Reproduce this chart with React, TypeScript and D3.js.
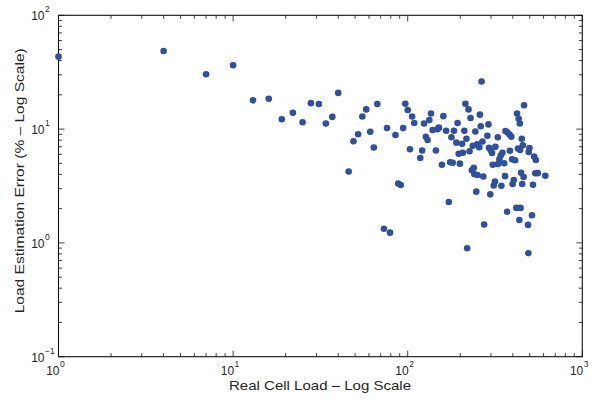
import React from "react";
import * as d3 from "d3";

const realLoad: number[] = [
  1, 4, 7, 10, 13, 16, 19, 22, 25, 27.9, 31, 34, 37, 40, 45.9, 48.9, 52, 55, 57.9, 61,
  64, 67, 73.1, 79.2, 76.1, 85.1, 88.3, 91.2, 94.2, 96.9, 100, 103, 106, 109, 118, 121, 124, 127, 130, 133,
  136, 139, 145, 148, 151, 157, 160, 166, 172, 175, 178, 181, 184, 190, 193, 196, 199, 205, 207, 211,
  214, 217, 219, 223, 226, 229, 233, 236, 239, 241, 244, 247, 250, 251, 257, 259, 262, 265, 268, 271,
  274, 286, 290, 292, 297, 299, 304, 307, 311, 316, 318, 328, 329, 335, 341, 344, 349, 357, 361, 363,
  371, 373, 383, 385, 392, 396, 399, 405, 412, 419, 423, 428, 432, 436, 439, 443, 446, 450, 453, 456,
  461, 464, 489, 491, 493, 498, 515, 522, 530, 542, 538, 556, 614, 440,
];

const estError: number[] = [
  43.3, 48.6, 30.3, 36.4, 17.9, 18.5, 12.2, 13.9, 11.5, 16.9, 16.6, 11.2, 12.8, 20.8, 4.24, 7.81, 9.0, 12.9, 14.9, 9.49,
  6.89, 16.6, 1.33, 1.23, 10.2, 8.87, 3.33, 3.23, 10.2, 16.7, 14.7, 6.65, 12.9, 11.3, 5.57, 6.49, 11.2, 8.57, 8.02, 12.0,
  13.7, 9.82, 6.49, 9.98, 10.3, 4.86, 13.0, 9.68, 2.29, 5.11, 8.47, 5.06, 9.68, 7.6, 11.3, 6.07, 4.97, 7.43, 6.19, 9.68,
  16.7, 8.22, 0.898, 14.9, 6.39, 12.5, 4.35, 7.15, 4.57, 4.01, 9.53, 2.82, 7.35, 3.95, 6.92, 13.4, 10.6, 26.2, 7.78, 3.83,
  1.45, 8.75, 11.0, 6.85, 2.67, 6.53, 6.17, 4.86, 3.19, 3.46, 7.0, 8.47, 4.94, 5.44, 5.86, 3.18, 6.2, 5.01, 3.86, 9.62,
  1.88, 9.33, 8.97, 6.46, 8.57, 5.43, 3.29, 3.57, 5.33, 2.03, 13.7, 6.76, 12.3, 1.59, 11.2, 2.03, 4.14, 8.22, 3.29, 7.2,
  3.79, 16.2, 1.44, 0.812, 6.29, 6.82, 1.75, 3.24, 5.74, 5.35, 4.09, 4.1, 3.89, 6.55,
];

const xTickExps: number[] = [0, 1, 2, 3];
const yTickExps: number[] = [-1, 0, 1, 2];

const xLabel = "Real Cell Load \u2013 Log Scale";
const yLabel = "Load Estimation Error (% \u2013 Log Scale)";

const W = 592;
const H = 400;
const left = 58.5;
const right = 582.3;
const top = 15.3;
const bottom = 356.7;

export default function App() {
  const x = d3.scaleLog().domain([1, 1000]).range([left, right]);
  const y = d3.scaleLog().domain([0.1, 100]).range([bottom, top]);
  const xt = x.ticks();
  const yt = y.ticks();
  const isMajor = (v: number) => Math.abs(Math.log10(v) - Math.round(Math.log10(v))) < 1e-9;
  const font = "'Liberation Sans', Arial, Helvetica, sans-serif";
  const txt = "#262626";
  const major = 6;
  const minor = 3.5;
  const pts = realLoad.map((v, i) => [v, estError[i]] as [number, number]);

  return (
    <svg width={W} height={H} style={{ position: "absolute", left: 0, top: 0, background: "#fff" }} fontFamily={font}>
      <rect x={0} y={0} width={W} height={H} fill="#fff" />
      {/* ticks */}
      <g stroke="#111" strokeWidth={0.8}>
        {xt.map((v, i) => {
          const len = isMajor(v) ? major : minor;
          const px = x(v);
          return (
            <g key={"xt" + i}>
              <line x1={px} x2={px} y1={bottom} y2={bottom - len} />
              <line x1={px} x2={px} y1={top} y2={top + len} />
            </g>
          );
        })}
        {yt.map((v, i) => {
          const len = isMajor(v) ? major : minor;
          const py = y(v);
          return (
            <g key={"yt" + i}>
              <line x1={left} x2={left + len} y1={py} y2={py} />
              <line x1={right} x2={right - len} y1={py} y2={py} />
            </g>
          );
        })}
      </g>
      {/* frame */}
      <rect x={left} y={top} width={right - left} height={bottom - top} fill="none" stroke="#111" strokeWidth={1.1} />
      {/* points */}
      <g fill="#2f4f9f">
        {pts.map((p, i) => (
          <circle key={i} cx={x(p[0])} cy={y(p[1])} r={3.3} />
        ))}
      </g>
      {/* x tick labels */}
      {xTickExps.map((e) => {
        const px = x(Math.pow(10, e));
        return (
          <g key={"xl" + e} fill={txt}>
            <text x={px + 1} y={375} fontSize={12} textAnchor="end">10</text>
            <text x={px + 1.5} y={367} fontSize={8.5} textAnchor="start">{String(e)}</text>
          </g>
        );
      })}
      {/* y tick labels */}
      {yTickExps.map((e) => {
        const py = y(Math.pow(10, e));
        return (
          <g key={"yl" + e} fill={txt}>
            <text x={44.5} y={py + 5} fontSize={12} textAnchor="end">10</text>
            <text x={45} y={py - 3} fontSize={8.5} textAnchor="start">{e < 0 ? "\u2212" + String(-e) : String(e)}</text>
          </g>
        );
      })}
      {/* axis labels */}
      <text
        x={320}
        y={390}
        fontSize={13.5}
        textAnchor="middle"
        fill={txt}
        textLength={182}
        lengthAdjust="spacingAndGlyphs"
      >
        {xLabel}
      </text>
      <text
        transform={`translate(23.5,180.8) rotate(-90)`}
        fontSize={13.5}
        textAnchor="middle"
        fill={txt}
        textLength={265}
        lengthAdjust="spacingAndGlyphs"
      >
        {yLabel}
      </text>
    </svg>
  );
}
